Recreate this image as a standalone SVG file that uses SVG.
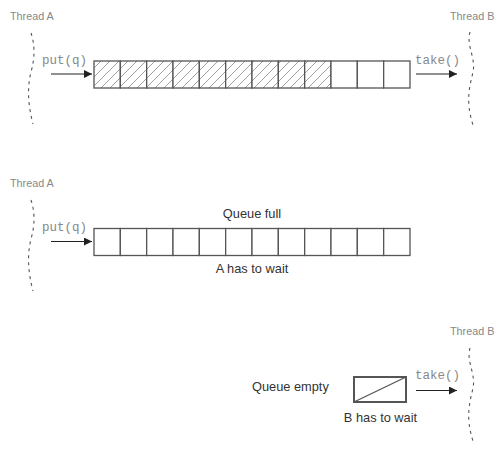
<svg xmlns="http://www.w3.org/2000/svg" width="500" height="462" viewBox="0 0 500 462">
<style>
.thr{font-family:"Liberation Sans",Arial,sans-serif;font-size:10.8px;fill:#888}
.code{font-family:"Liberation Mono","Courier New",monospace;font-size:12.5px;fill:#888}
.lbl{font-family:"Liberation Sans",Arial,sans-serif;font-size:12.8px;fill:#333}
.cell{fill:#fff;stroke:#555;stroke-width:1.3}
.hatch{fill:url(#hatch);stroke:#555;stroke-width:1.3}
.life{fill:none;stroke:#555;stroke-width:1.1;stroke-dasharray:3 4}
.arr{stroke:#222;stroke-width:1.2;fill:none;marker-end:url(#ah)}
</style>
<defs>
<marker id="ah" viewBox="0 0 10 10" refX="10" refY="5" markerWidth="8" markerHeight="8" markerUnits="userSpaceOnUse" orient="auto">
<path d="M0,0 L10,5 L0,10 z" fill="#222"/>
</marker>
<pattern id="hatch" patternUnits="userSpaceOnUse" width="9" height="9">
<rect width="9" height="9" fill="#fff"/>
<path d="M-1,10 L10,-1 M-1,1 L1,-1 M8,10 L10,8" stroke="#888" stroke-width="0.8"/>
</pattern>
</defs>

<g id="threadA1">
<text class="thr" x="10" y="20">Thread A</text>
<path class="life" d="M31,33 C35,45 35,58 31,72 C27,88 28,105 33,124"/>
</g>
<g id="threadB1">
<text class="thr" x="450" y="20">Thread B</text>
<path class="life" d="M470,32 C466,45 476,58 473,72 C470,86 465,100 473,125"/>
</g>
<g id="queue1">
<rect class="hatch" x="94" y="61" width="26.33" height="27"/>
<rect class="hatch" x="120.33" y="61" width="26.33" height="27"/>
<rect class="hatch" x="146.67" y="61" width="26.33" height="27"/>
<rect class="hatch" x="173" y="61" width="26.33" height="27"/>
<rect class="hatch" x="199.33" y="61" width="26.33" height="27"/>
<rect class="hatch" x="225.67" y="61" width="26.33" height="27"/>
<rect class="hatch" x="252" y="61" width="26.33" height="27"/>
<rect class="hatch" x="278.33" y="61" width="26.33" height="27"/>
<rect class="hatch" x="304.67" y="61" width="26.33" height="27"/>
<rect class="cell" x="331" y="61" width="26.33" height="27"/>
<rect class="cell" x="357.33" y="61" width="26.33" height="27"/>
<rect class="cell" x="383.67" y="61" width="26.33" height="27"/>
</g>

<g id="threadA2">
<text class="thr" x="10" y="187">Thread A</text>
<path class="life" d="M31,200 C35,212 35,225 31,239 C27,255 28,272 33,291"/>
</g>
<g id="queue2">
<text class="lbl" x="252" y="218" text-anchor="middle">Queue full</text>
<rect class="cell" x="94" y="228.5" width="26.33" height="27"/>
<rect class="cell" x="120.33" y="228.5" width="26.33" height="27"/>
<rect class="cell" x="146.67" y="228.5" width="26.33" height="27"/>
<rect class="cell" x="173" y="228.5" width="26.33" height="27"/>
<rect class="cell" x="199.33" y="228.5" width="26.33" height="27"/>
<rect class="cell" x="225.67" y="228.5" width="26.33" height="27"/>
<rect class="cell" x="252" y="228.5" width="26.33" height="27"/>
<rect class="cell" x="278.33" y="228.5" width="26.33" height="27"/>
<rect class="cell" x="304.67" y="228.5" width="26.33" height="27"/>
<rect class="cell" x="331" y="228.5" width="26.33" height="27"/>
<rect class="cell" x="357.33" y="228.5" width="26.33" height="27"/>
<rect class="cell" x="383.67" y="228.5" width="26.33" height="27"/>
<text class="lbl" x="252" y="273" text-anchor="middle">A has to wait</text>
</g>

<g id="threadB3">
<text class="thr" x="450" y="335">Thread B</text>
<path class="life" d="M470,348 C466,361 476,374 473,388 C470,402 465,416 473,441"/>
</g>
<g id="queue3">
<text class="lbl" x="252" y="391">Queue empty</text>
<rect x="354" y="377" width="52" height="25" fill="#fff" stroke="#555" stroke-width="2"/>
<line x1="354" y1="402" x2="406" y2="377" stroke="#555" stroke-width="1.3"/>
<text class="lbl" x="380.5" y="421.5" text-anchor="middle">B has to wait</text>
</g>

<g id="connectors">
<text class="code" x="42" y="64">put(q)</text>
<line class="arr" x1="51" y1="74" x2="92" y2="74"/>
<text class="code" x="415" y="64">take()</text>
<line class="arr" x1="416" y1="74" x2="457" y2="74"/>
<text class="code" x="42" y="231">put(q)</text>
<line class="arr" x1="51" y1="241.5" x2="92" y2="241.5"/>
<text class="code" x="415" y="379">take()</text>
<line class="arr" x1="416" y1="390.5" x2="457" y2="390.5"/>
</g>
</svg>
